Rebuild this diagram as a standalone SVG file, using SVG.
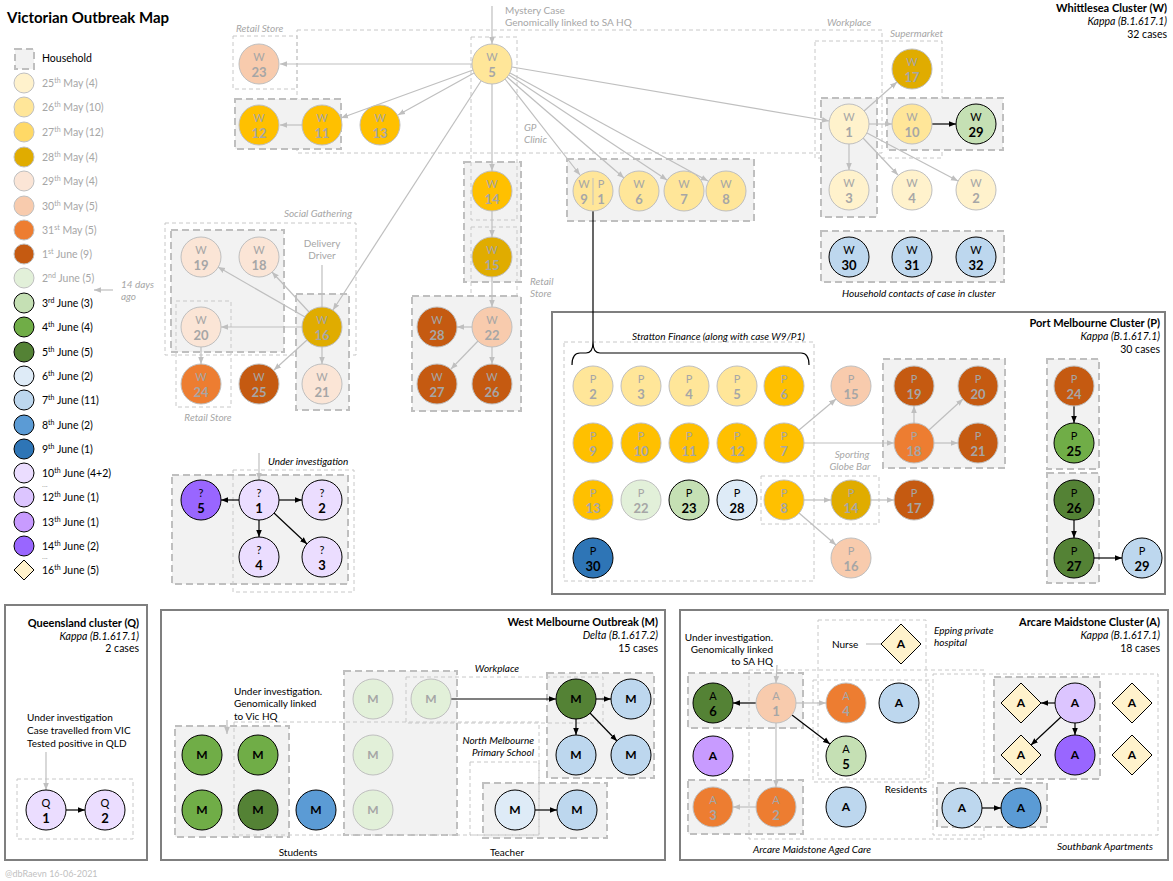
<svg xmlns="http://www.w3.org/2000/svg" width="1173" height="881" viewBox="0 0 1173 881">
<style>
text{font-family:Lato,"Liberation Sans",sans-serif}
.hh{fill:#F2F2F2;stroke:#BFBFBF;stroke-width:2;stroke-dasharray:7 4}
.tb{fill:none;stroke:#C8C8C8;stroke-width:1;stroke-dasharray:4 3}
.cl{fill:none;stroke:#7F7F7F;stroke-width:2}
.eg{stroke:#BFBFBF;stroke-width:1.2;fill:none;marker-end:url(#ag)}
.ek{stroke:#000;stroke-width:1.2;fill:none;marker-end:url(#ak)}
.ln{stroke:#BFBFBF;stroke-width:1.2;fill:none}
.ng{stroke:#BFBFBF;stroke-width:1}
.nk{stroke:#000;stroke-width:1}
.tg{fill:#A6A6A6}
.lt{font-size:11px;text-anchor:middle}
.nm{font-size:13px;font-weight:bold;text-anchor:middle}
.one{font-size:12px;font-weight:bold;text-anchor:middle}
.lab{font-size:10px;font-style:italic;fill:#A6A6A6}
.labk{font-size:10px;font-style:italic;fill:#000}
.txt{font-size:10px;fill:#000}
.gt{font-size:10px;fill:#A6A6A6}
.ttl{font-size:11px;font-weight:bold;text-anchor:end}
.sub{font-size:10.5px;font-style:italic;text-anchor:end}
.cnt{font-size:10.5px;text-anchor:end}
.lg{font-size:10.5px}
.sp{font-size:7px}
</style>
<defs>
<marker id="ag" viewBox="0 0 10 10" refX="10" refY="5" markerWidth="7" markerHeight="7" orient="auto" markerUnits="userSpaceOnUse"><path d="M0,1 L10,5 L0,9 z" fill="#BFBFBF"/></marker>
<marker id="ak" viewBox="0 0 10 10" refX="10" refY="5" markerWidth="7" markerHeight="7" orient="auto" markerUnits="userSpaceOnUse"><path d="M0,1 L10,5 L0,9 z" fill="#000"/></marker>
</defs>
<rect width="1173" height="881" fill="#fff"/>

<text x="7" y="23" font-size="15" font-weight="bold">Victorian Outbreak Map</text>

<g id="legend">
<rect x="15" y="49" width="19" height="20" class="hh"/>
<text x="42" y="62" class="lg">Household</text>
<circle cx="24" cy="83" r="10" fill="#FFF2CC" class="ng"/><text x="42" y="87" class="lg tg">25<tspan class="sp" dy="-4">th</tspan><tspan dy="4"> May (4)</tspan></text>
<circle cx="24" cy="107" r="10" fill="#FFE699" class="ng"/><text x="42" y="111" class="lg tg">26<tspan class="sp" dy="-4">th</tspan><tspan dy="4"> May (10)</tspan></text>
<circle cx="24" cy="132" r="10" fill="#FFD966" class="ng"/><text x="42" y="136" class="lg tg">27<tspan class="sp" dy="-4">th</tspan><tspan dy="4"> May (12)</tspan></text>
<circle cx="24" cy="157" r="10" fill="#E0AC00" class="ng"/><text x="42" y="161" class="lg tg">28<tspan class="sp" dy="-4">th</tspan><tspan dy="4"> May (4)</tspan></text>
<circle cx="24" cy="181" r="10" fill="#FBE5D6" class="ng"/><text x="42" y="185" class="lg tg">29<tspan class="sp" dy="-4">th</tspan><tspan dy="4"> May (4)</tspan></text>
<circle cx="24" cy="206" r="10" fill="#F8CBAD" class="ng"/><text x="42" y="210" class="lg tg">30<tspan class="sp" dy="-4">th</tspan><tspan dy="4"> May (5)</tspan></text>
<circle cx="24" cy="230" r="10" fill="#ED7D31" class="ng"/><text x="42" y="234" class="lg tg">31<tspan class="sp" dy="-4">st</tspan><tspan dy="4"> May (5)</tspan></text>
<circle cx="24" cy="254" r="10" fill="#C55A11" class="ng"/><text x="42" y="258" class="lg tg">1<tspan class="sp" dy="-4">st</tspan><tspan dy="4"> June (9)</tspan></text>
<circle cx="24" cy="278" r="10" fill="#E2F0D9" class="ng"/><text x="42" y="282" class="lg tg">2<tspan class="sp" dy="-4">nd</tspan><tspan dy="4"> June (5)</tspan></text>
<circle cx="24" cy="303" r="10" fill="#C5E0B4" class="nk"/><text x="42" y="307" class="lg">3<tspan class="sp" dy="-4">rd</tspan><tspan dy="4"> June (3)</tspan></text>
<circle cx="24" cy="327" r="10" fill="#70AD47" class="nk"/><text x="42" y="331" class="lg">4<tspan class="sp" dy="-4">th</tspan><tspan dy="4"> June (4)</tspan></text>
<circle cx="24" cy="352" r="10" fill="#548235" class="nk"/><text x="42" y="356" class="lg">5<tspan class="sp" dy="-4">th</tspan><tspan dy="4"> June (5)</tspan></text>
<circle cx="24" cy="376" r="10" fill="#DEEBF7" class="nk"/><text x="42" y="380" class="lg">6<tspan class="sp" dy="-4">th</tspan><tspan dy="4"> June (2)</tspan></text>
<circle cx="24" cy="400" r="10" fill="#BDD7EE" class="nk"/><text x="42" y="404" class="lg">7<tspan class="sp" dy="-4">th</tspan><tspan dy="4"> June (11)</tspan></text>
<circle cx="24" cy="425" r="10" fill="#5B9BD5" class="nk"/><text x="42" y="429" class="lg">8<tspan class="sp" dy="-4">th</tspan><tspan dy="4"> June (2)</tspan></text>
<circle cx="24" cy="449" r="10" fill="#2E75B6" class="nk"/><text x="42" y="453" class="lg">9<tspan class="sp" dy="-4">th</tspan><tspan dy="4"> June (1)</tspan></text>
<circle cx="24" cy="473" r="10" fill="#EBDDFF" class="nk"/><text x="42" y="477" class="lg">10<tspan class="sp" dy="-4">th</tspan><tspan dy="4"> June (4+2)</tspan></text>
<text x="42" y="487" font-size="8" fill="#A6A6A6">...</text>
<circle cx="24" cy="497" r="10" fill="#DCC5FF" class="nk"/><text x="42" y="501" class="lg">12<tspan class="sp" dy="-4">th</tspan><tspan dy="4"> June (1)</tspan></text>
<circle cx="24" cy="522" r="10" fill="#C89BFF" class="nk"/><text x="42" y="526" class="lg">13<tspan class="sp" dy="-4">th</tspan><tspan dy="4"> June (1)</tspan></text>
<circle cx="24" cy="546" r="10" fill="#9966FF" class="nk"/><text x="42" y="550" class="lg">14<tspan class="sp" dy="-4">th</tspan><tspan dy="4"> June (2)</tspan></text>
<text x="42" y="559" font-size="8" fill="#A6A6A6">...</text>
<polygon points="24,560 34,570 24,580 14,570" fill="#FFF2CC" class="nk"/><text x="42" y="574" class="lg">16<tspan class="sp" dy="-4">th</tspan><tspan dy="4"> June (5)</tspan></text>
<text x="121" y="288" class="lab">14 days</text>
<text x="121" y="300" class="lab">ago</text>
</g>

<g id="boxes">
<rect x="233" y="36" width="64" height="53" class="tb"/>
<rect x="297" y="30" width="585" height="123" class="tb"/>
<rect x="815" y="41" width="127" height="117" class="tb"/>
<rect x="235" y="99" width="106" height="50" class="hh"/>
<rect x="464" y="162" width="57" height="120" class="hh"/>
<rect x="471" y="37" width="46" height="183" class="tb"/>
<rect x="471" y="227" width="46" height="127" class="tb"/>
<rect x="567" y="159" width="187" height="62" class="hh"/>
<rect x="821" y="98" width="56" height="119" class="hh"/>
<rect x="887" y="98" width="116" height="52" class="hh"/>
<rect x="821" y="231" width="183" height="51" class="hh"/>
<rect x="165" y="223" width="191" height="132" class="tb"/>
<rect x="171" y="230" width="113" height="122" class="hh"/>
<rect x="296" y="294" width="53" height="116" class="hh"/>
<rect x="176" y="301" width="55" height="106" class="tb"/>
<rect x="412" y="296" width="109" height="115" class="hh"/>
<rect x="172" y="475" width="176" height="109" class="hh"/>
<rect x="233" y="470" width="121" height="122" class="tb"/>
<rect x="552" y="312" width="613" height="282" class="cl"/>
<rect x="564" y="342" width="250" height="239" class="tb"/>
<rect x="883" y="359" width="122" height="109" class="hh"/>
<rect x="1047" y="359" width="52" height="110" class="hh"/>
<rect x="1047" y="473" width="52" height="110" class="hh"/>
<rect x="761" y="476" width="118" height="48" class="tb"/>
<rect x="5" y="605" width="142" height="255" class="cl"/>
<rect x="17" y="779" width="116" height="60" class="tb"/>
<rect x="161" y="610" width="504" height="250" class="cl"/>
<rect x="344" y="671" width="113" height="164" class="hh"/>
<rect x="175" y="726" width="114" height="111" class="hh"/>
<rect x="483" y="783" width="124" height="55" class="hh"/>
<rect x="547" y="673" width="107" height="105" class="hh"/>
<rect x="406" y="677" width="197" height="46" class="tb"/>
<rect x="234" y="722" width="305" height="113" class="tb"/>
<rect x="470" y="762" width="69" height="73" class="tb"/>
<rect x="680" y="610" width="488" height="250" class="cl"/>
<rect x="688" y="673" width="115" height="55" class="hh"/>
<rect x="688" y="780" width="115" height="54" class="hh"/>
<rect x="749" y="670" width="235" height="169" class="tb"/>
<rect x="818" y="620" width="108" height="159" class="tb"/>
<rect x="813" y="680" width="116" height="102" class="tb"/>
<rect x="933" y="674" width="225" height="161" class="tb"/>
<rect x="994" y="677" width="106" height="102" class="hh"/>
<rect x="937" y="783" width="110" height="44" class="hh"/>
</g>

<g id="labels">
<text x="505" y="14" class="gt">Mystery Case</text>
<text x="505" y="26" class="gt">Genomically linked to SA HQ</text>
<text x="236" y="32" class="lab">Retail Store</text>
<text x="827" y="26" class="lab">Workplace</text>
<text x="890" y="37" class="lab">Supermarket</text>
<text x="524" y="131" class="lab">GP</text>
<text x="524" y="143" class="lab">Clinic</text>
<text x="352" y="217" class="lab" text-anchor="end">Social Gathering</text>
<text x="322" y="247" class="gt" text-anchor="middle">Delivery</text>
<text x="322" y="259" class="gt" text-anchor="middle">Driver</text>
<text x="208" y="421" class="lab" text-anchor="middle">Retail Store</text>
<text x="530" y="285" class="lab">Retail</text>
<text x="530" y="297" class="lab">Store</text>
<text x="842" y="297" class="labk">Household contacts of case in cluster</text>
<text x="1167" y="12" class="ttl">Whittlesea Cluster (W)</text>
<text x="1167" y="25" class="sub">Kappa (B.1.617.1)</text>
<text x="1167" y="38" class="cnt">32 cases</text>
<text x="268" y="465" class="labk">Under investigation</text>
<text x="632" y="340" class="labk">Stratton Finance (along with case W9/P1)</text>
<text x="852" y="458" class="lab" text-anchor="middle">Sporting</text>
<text x="850" y="470" class="lab" text-anchor="middle">Globe Bar</text>
<text x="1160" y="327" class="ttl">Port Melbourne Cluster (P)</text>
<text x="1160" y="340" class="sub">Kappa (B.1.617.1)</text>
<text x="1160" y="353" class="cnt">30 cases</text>
<text x="139" y="627" class="ttl">Queensland cluster (Q)</text>
<text x="139" y="640" class="sub">Kappa (B.1.617.1)</text>
<text x="139" y="652" class="cnt">2 cases</text>
<text x="27" y="721" class="txt">Under investigation</text>
<text x="27" y="734" class="txt">Case travelled from VIC</text>
<text x="27" y="747" class="txt">Tested positive in QLD</text>
<text x="5" y="877" font-size="9" fill="#BFBFBF">@dbRaevn 16-06-2021</text>
<text x="658" y="626" class="ttl">West Melbourne Outbreak (M)</text>
<text x="658" y="639" class="sub">Delta (B.1.617.2)</text>
<text x="658" y="652" class="cnt">15 cases</text>
<text x="497" y="672" class="labk" text-anchor="middle">Workplace</text>
<text x="234" y="695" class="txt">Under investigation.</text>
<text x="234" y="707" class="txt">Genomically linked</text>
<text x="234" y="720" class="txt">to Vic HQ</text>
<text x="534" y="744" class="labk" text-anchor="end">North Melbourne</text>
<text x="534" y="756" class="labk" text-anchor="end">Primary School</text>
<text x="298" y="856" class="txt" text-anchor="middle">Students</text>
<text x="507" y="856" class="txt" text-anchor="middle">Teacher</text>
<text x="1160" y="626" class="ttl">Arcare Maidstone Cluster (A)</text>
<text x="1160" y="639" class="sub">Kappa (B.1.617.1)</text>
<text x="1160" y="652" class="cnt">18 cases</text>
<text x="773" y="641" class="txt" text-anchor="end">Under investigation.</text>
<text x="773" y="653" class="txt" text-anchor="end">Genomically linked</text>
<text x="773" y="665" class="txt" text-anchor="end">to SA HQ</text>
<text x="832" y="648" class="txt">Nurse</text>
<text x="934" y="634" class="labk">Epping private</text>
<text x="934" y="646" class="labk">hospital</text>
<text x="906" y="793" class="txt" text-anchor="middle">Residents</text>
<text x="812" y="853" class="labk" text-anchor="middle">Arcare Maidstone Aged Care</text>
<text x="1105" y="850" class="labk" text-anchor="middle">Southbank Apartments</text>
</g>

<g id="connectors">
<line x1="113" y1="290" x2="94" y2="290" class="eg"/>
<line x1="492" y1="6" x2="492" y2="44" class="eg"/>
<line x1="472" y1="64" x2="280" y2="64" class="eg"/>
<line x1="473" y1="70" x2="341" y2="118" class="eg"/>
<line x1="474" y1="73" x2="398" y2="115" class="eg"/>
<line x1="302" y1="125" x2="280" y2="125" class="eg"/>
<line x1="481" y1="81" x2="333" y2="310" class="eg"/>
<line x1="492" y1="84" x2="492" y2="171" class="eg"/>
<line x1="505" y1="79" x2="580" y2="175" class="eg"/>
<line x1="507" y1="77" x2="624" y2="178" class="eg"/>
<line x1="509" y1="75" x2="667" y2="180" class="eg"/>
<line x1="510" y1="73" x2="708" y2="181" class="eg"/>
<line x1="512" y1="67" x2="829" y2="121" class="eg"/>
<line x1="864" y1="111" x2="897" y2="82" class="eg"/>
<line x1="869" y1="124" x2="892" y2="124" class="eg"/>
<line x1="932" y1="124" x2="956" y2="124" class="ek"/>
<line x1="849" y1="144" x2="849" y2="170" class="eg"/>
<line x1="863" y1="138" x2="898" y2="175" class="eg"/>
<line x1="867" y1="133" x2="958" y2="181" class="eg"/>
<line x1="492" y1="211" x2="492" y2="237" class="eg"/>
<line x1="492" y1="277" x2="492" y2="307" class="eg"/>
<line x1="472" y1="327" x2="457" y2="327" class="eg"/>
<line x1="478" y1="341" x2="451" y2="369" class="eg"/>
<line x1="492" y1="347" x2="492" y2="364" class="eg"/>
<line x1="322" y1="265" x2="322" y2="307" class="ln"/>
<line x1="305" y1="317" x2="218" y2="267" class="eg"/>
<line x1="309" y1="312" x2="272" y2="272" class="eg"/>
<line x1="302" y1="327" x2="221" y2="327" class="eg"/>
<line x1="307" y1="340" x2="274" y2="370" class="eg"/>
<line x1="322" y1="347" x2="322" y2="364" class="eg"/>
<line x1="201" y1="347" x2="201" y2="364" class="eg"/>
<line x1="259" y1="453" x2="259" y2="480" class="eg"/>
<line x1="239" y1="500" x2="221" y2="500" class="ek"/>
<line x1="279" y1="500" x2="302" y2="500" class="ek"/>
<line x1="259" y1="520" x2="259" y2="537" class="ek"/>
<line x1="274" y1="513" x2="307" y2="544" class="ek"/>
<line x1="593" y1="211" x2="593" y2="342" stroke="#000" stroke-width="1.2"/>
<path d="M572,365 Q572,353 580,353 L586,353 Q593,353 593,342 Q593,353 600,353 L801,353 Q809,353 809,365" fill="none" stroke="#000" stroke-width="1.2"/>
<line x1="799" y1="430" x2="836" y2="399" class="eg"/>
<line x1="804" y1="443" x2="894" y2="443" class="eg"/>
<line x1="914" y1="423" x2="914" y2="406" class="eg"/>
<line x1="929" y1="430" x2="963" y2="399" class="eg"/>
<line x1="934" y1="443" x2="958" y2="443" class="eg"/>
<line x1="804" y1="500" x2="831" y2="500" class="eg"/>
<line x1="871" y1="500" x2="894" y2="500" class="eg"/>
<line x1="799" y1="513" x2="836" y2="545" class="eg"/>
<line x1="1074" y1="406" x2="1074" y2="423" class="ek"/>
<line x1="1074" y1="520" x2="1074" y2="538" class="ek"/>
<line x1="1094" y1="558" x2="1122" y2="558" class="ek"/>
<line x1="46" y1="752" x2="46" y2="790" class="eg"/>
<line x1="66" y1="810" x2="85" y2="810" class="ek"/>
<line x1="227" y1="720" x2="227" y2="734" class="eg"/>
<line x1="451" y1="699" x2="556" y2="699" class="ek"/>
<line x1="596" y1="699" x2="611" y2="699" class="ek"/>
<line x1="576" y1="719" x2="576" y2="735" class="ek"/>
<line x1="590" y1="713" x2="617" y2="741" class="ek"/>
<line x1="535" y1="810" x2="557" y2="810" class="ek"/>
<line x1="777" y1="665" x2="776" y2="683" class="eg"/>
<line x1="756" y1="703" x2="733" y2="703" class="ek"/>
<line x1="796" y1="703" x2="826" y2="703" class="eg"/>
<line x1="792" y1="715" x2="830" y2="744" class="ek"/>
<line x1="776" y1="723" x2="776" y2="787" class="eg"/>
<line x1="756" y1="807" x2="733" y2="807" class="eg"/>
<line x1="866" y1="644" x2="881" y2="644" class="ln"/>
<line x1="1055" y1="703" x2="1041" y2="703" class="ek"/>
<line x1="1075" y1="723" x2="1075" y2="735" class="ek"/>
<line x1="1061" y1="717" x2="1031" y2="745" class="ek"/>
<line x1="982" y1="808" x2="1001" y2="808" class="ek"/>
</g>

<g id="w23"><circle cx="259" cy="64" r="20" fill="#F8CBAD" class="ng"/><text x="259" y="61" class="lt tg">W</text><text x="259" y="76.5" class="nm tg">23</text></g>
<g id="w5"><circle cx="492" cy="64" r="20" fill="#FFE699" class="ng"/><text x="492" y="61" class="lt tg">W</text><text x="492" y="76.5" class="nm tg">5</text></g>
<g id="w12"><circle cx="259" cy="125" r="20" fill="#FFC000" class="ng"/><text x="259" y="122" class="lt tg">W</text><text x="259" y="137.5" class="nm tg">12</text></g>
<g id="w11"><circle cx="322" cy="125" r="20" fill="#FFC000" class="ng"/><text x="322" y="122" class="lt tg">W</text><text x="322" y="137.5" class="nm tg">11</text></g>
<g id="w13"><circle cx="380" cy="125" r="20" fill="#FFC000" class="ng"/><text x="380" y="122" class="lt tg">W</text><text x="380" y="137.5" class="nm tg">13</text></g>
<g id="w14"><circle cx="492" cy="191" r="20" fill="#FFC000" class="ng"/><text x="492" y="188" class="lt tg">W</text><text x="492" y="203.5" class="nm tg">14</text></g>
<g id="w15"><circle cx="492" cy="257" r="20" fill="#E0AC00" class="ng"/><text x="492" y="254" class="lt tg">W</text><text x="492" y="269.5" class="nm tg">15</text></g>
<g id="w22"><circle cx="492" cy="327" r="20" fill="#F8CBAD" class="ng"/><text x="492" y="324" class="lt tg">W</text><text x="492" y="339.5" class="nm tg">22</text></g>
<g id="w28"><circle cx="437" cy="327" r="20" fill="#C55A11" class="ng"/><text x="437" y="324" class="lt tg">W</text><text x="437" y="339.5" class="nm tg">28</text></g>
<g id="w27"><circle cx="437" cy="384" r="20" fill="#C55A11" class="ng"/><text x="437" y="381" class="lt tg">W</text><text x="437" y="396.5" class="nm tg">27</text></g>
<g id="w26"><circle cx="492" cy="384" r="20" fill="#C55A11" class="ng"/><text x="492" y="381" class="lt tg">W</text><text x="492" y="396.5" class="nm tg">26</text></g>
<g id="w19"><circle cx="201" cy="257" r="20" fill="#FBE5D6" class="ng"/><text x="201" y="254" class="lt tg">W</text><text x="201" y="269.5" class="nm tg">19</text></g>
<g id="w18"><circle cx="259" cy="257" r="20" fill="#FBE5D6" class="ng"/><text x="259" y="254" class="lt tg">W</text><text x="259" y="269.5" class="nm tg">18</text></g>
<g id="w20"><circle cx="201" cy="327" r="20" fill="#FBE5D6" class="ng"/><text x="201" y="324" class="lt tg">W</text><text x="201" y="339.5" class="nm tg">20</text></g>
<g id="w16"><circle cx="322" cy="327" r="20" fill="#E0AC00" class="ng"/><text x="322" y="324" class="lt tg">W</text><text x="322" y="339.5" class="nm tg">16</text></g>
<g id="w24"><circle cx="201" cy="384" r="20" fill="#ED7D31" class="ng"/><text x="201" y="381" class="lt tg">W</text><text x="201" y="396.5" class="nm tg">24</text></g>
<g id="w25"><circle cx="259" cy="384" r="20" fill="#C55A11" class="ng"/><text x="259" y="381" class="lt tg">W</text><text x="259" y="396.5" class="nm tg">25</text></g>
<g id="w21"><circle cx="322" cy="384" r="20" fill="#FBE5D6" class="ng"/><text x="322" y="381" class="lt tg">W</text><text x="322" y="396.5" class="nm tg">21</text></g>
<g id="w9p1"><circle cx="593" cy="191" r="20" fill="#FFE699" class="ng"/><line x1="593" y1="178" x2="593" y2="205" stroke="#BFBFBF"/><text x="584" y="188" class="lt tg">W</text><text x="601" y="188" class="lt tg">P</text><text x="584" y="203.5" class="nm tg">9</text><text x="601" y="203.5" class="nm tg">1</text></g>
<g id="w6"><circle cx="639" cy="191" r="20" fill="#FFE699" class="ng"/><text x="639" y="188" class="lt tg">W</text><text x="639" y="203.5" class="nm tg">6</text></g>
<g id="w7"><circle cx="684" cy="191" r="20" fill="#FFE699" class="ng"/><text x="684" y="188" class="lt tg">W</text><text x="684" y="203.5" class="nm tg">7</text></g>
<g id="w8"><circle cx="726" cy="191" r="20" fill="#FFE699" class="ng"/><text x="726" y="188" class="lt tg">W</text><text x="726" y="203.5" class="nm tg">8</text></g>
<g id="w17"><circle cx="912" cy="69" r="20" fill="#E0AC00" class="ng"/><text x="912" y="66" class="lt tg">W</text><text x="912" y="81.5" class="nm tg">17</text></g>
<g id="w1"><circle cx="849" cy="124" r="20" fill="#FFF2CC" class="ng"/><text x="849" y="121" class="lt tg">W</text><text x="849" y="136.5" class="nm tg">1</text></g>
<g id="w10"><circle cx="912" cy="124" r="20" fill="#FFE699" class="ng"/><text x="912" y="121" class="lt tg">W</text><text x="912" y="136.5" class="nm tg">10</text></g>
<g id="w29"><circle cx="976" cy="124" r="20" fill="#C5E0B4" class="nk"/><text x="976" y="121" class="lt">W</text><text x="976" y="136.5" class="nm">29</text></g>
<g id="w3"><circle cx="849" cy="190" r="20" fill="#FFF2CC" class="ng"/><text x="849" y="187" class="lt tg">W</text><text x="849" y="202.5" class="nm tg">3</text></g>
<g id="w4"><circle cx="912" cy="190" r="20" fill="#FFF2CC" class="ng"/><text x="912" y="187" class="lt tg">W</text><text x="912" y="202.5" class="nm tg">4</text></g>
<g id="w2"><circle cx="976" cy="190" r="20" fill="#FFF2CC" class="ng"/><text x="976" y="187" class="lt tg">W</text><text x="976" y="202.5" class="nm tg">2</text></g>
<g id="w30"><circle cx="849" cy="257" r="20" fill="#BDD7EE" class="nk"/><text x="849" y="254" class="lt">W</text><text x="849" y="269.5" class="nm">30</text></g>
<g id="w31"><circle cx="912" cy="257" r="20" fill="#BDD7EE" class="nk"/><text x="912" y="254" class="lt">W</text><text x="912" y="269.5" class="nm">31</text></g>
<g id="w32"><circle cx="976" cy="257" r="20" fill="#BDD7EE" class="nk"/><text x="976" y="254" class="lt">W</text><text x="976" y="269.5" class="nm">32</text></g>

<g id="u5"><circle cx="201" cy="500" r="20" fill="#9966FF" class="nk"/><text x="201" y="497" class="lt">?</text><text x="201" y="512.5" class="nm">5</text></g>
<g id="u1"><circle cx="259" cy="500" r="20" fill="#EBDDFF" class="nk"/><text x="259" y="497" class="lt">?</text><text x="259" y="512.5" class="nm">1</text></g>
<g id="u2"><circle cx="322" cy="500" r="20" fill="#EBDDFF" class="nk"/><text x="322" y="497" class="lt">?</text><text x="322" y="512.5" class="nm">2</text></g>
<g id="u4"><circle cx="259" cy="557" r="20" fill="#EBDDFF" class="nk"/><text x="259" y="554" class="lt">?</text><text x="259" y="569.5" class="nm">4</text></g>
<g id="u3"><circle cx="322" cy="557" r="20" fill="#EBDDFF" class="nk"/><text x="322" y="554" class="lt">?</text><text x="322" y="569.5" class="nm">3</text></g>

<g id="p2"><circle cx="593" cy="386" r="20" fill="#FFE699" class="ng"/><text x="593" y="383" class="lt tg">P</text><text x="593" y="398.5" class="nm tg">2</text></g>
<g id="p3"><circle cx="641" cy="386" r="20" fill="#FFE699" class="ng"/><text x="641" y="383" class="lt tg">P</text><text x="641" y="398.5" class="nm tg">3</text></g>
<g id="p4"><circle cx="689" cy="386" r="20" fill="#FFE699" class="ng"/><text x="689" y="383" class="lt tg">P</text><text x="689" y="398.5" class="nm tg">4</text></g>
<g id="p5"><circle cx="737" cy="386" r="20" fill="#FFE699" class="ng"/><text x="737" y="383" class="lt tg">P</text><text x="737" y="398.5" class="nm tg">5</text></g>
<g id="p6"><circle cx="784" cy="386" r="20" fill="#FFC000" class="ng"/><text x="784" y="383" class="lt tg">P</text><text x="784" y="398.5" class="nm tg">6</text></g>
<g id="p9"><circle cx="593" cy="443" r="20" fill="#FFC000" class="ng"/><text x="593" y="440" class="lt tg">P</text><text x="593" y="455.5" class="nm tg">9</text></g>
<g id="p10"><circle cx="641" cy="443" r="20" fill="#FFC000" class="ng"/><text x="641" y="440" class="lt tg">P</text><text x="641" y="455.5" class="nm tg">10</text></g>
<g id="p11"><circle cx="689" cy="443" r="20" fill="#FFC000" class="ng"/><text x="689" y="440" class="lt tg">P</text><text x="689" y="455.5" class="nm tg">11</text></g>
<g id="p12"><circle cx="737" cy="443" r="20" fill="#FFC000" class="ng"/><text x="737" y="440" class="lt tg">P</text><text x="737" y="455.5" class="nm tg">12</text></g>
<g id="p7"><circle cx="784" cy="443" r="20" fill="#FFC000" class="ng"/><text x="784" y="440" class="lt tg">P</text><text x="784" y="455.5" class="nm tg">7</text></g>
<g id="p13"><circle cx="593" cy="500" r="20" fill="#FFC000" class="ng"/><text x="593" y="497" class="lt tg">P</text><text x="593" y="512.5" class="nm tg">13</text></g>
<g id="p22"><circle cx="641" cy="500" r="20" fill="#E2F0D9" class="ng"/><text x="641" y="497" class="lt tg">P</text><text x="641" y="512.5" class="nm tg">22</text></g>
<g id="p23"><circle cx="689" cy="500" r="20" fill="#C5E0B4" class="nk"/><text x="689" y="497" class="lt">P</text><text x="689" y="512.5" class="nm">23</text></g>
<g id="p28"><circle cx="737" cy="500" r="20" fill="#DEEBF7" class="nk"/><text x="737" y="497" class="lt">P</text><text x="737" y="512.5" class="nm">28</text></g>
<g id="p8"><circle cx="784" cy="500" r="20" fill="#FFC000" class="ng"/><text x="784" y="497" class="lt tg">P</text><text x="784" y="512.5" class="nm tg">8</text></g>
<g id="p30"><circle cx="593" cy="558" r="20" fill="#2E75B6" class="nk"/><text x="593" y="555" class="lt">P</text><text x="593" y="570.5" class="nm">30</text></g>
<g id="p15"><circle cx="851" cy="386" r="20" fill="#F8CBAD" class="ng"/><text x="851" y="383" class="lt tg">P</text><text x="851" y="398.5" class="nm tg">15</text></g>
<g id="p19"><circle cx="914" cy="386" r="20" fill="#C55A11" class="ng"/><text x="914" y="383" class="lt tg">P</text><text x="914" y="398.5" class="nm tg">19</text></g>
<g id="p20"><circle cx="978" cy="386" r="20" fill="#C55A11" class="ng"/><text x="978" y="383" class="lt tg">P</text><text x="978" y="398.5" class="nm tg">20</text></g>
<g id="p18"><circle cx="914" cy="443" r="20" fill="#ED7D31" class="ng"/><text x="914" y="440" class="lt tg">P</text><text x="914" y="455.5" class="nm tg">18</text></g>
<g id="p21"><circle cx="978" cy="443" r="20" fill="#C55A11" class="ng"/><text x="978" y="440" class="lt tg">P</text><text x="978" y="455.5" class="nm tg">21</text></g>
<g id="p14"><circle cx="851" cy="500" r="20" fill="#E0AC00" class="ng"/><text x="851" y="497" class="lt tg">P</text><text x="851" y="512.5" class="nm tg">14</text></g>
<g id="p17"><circle cx="914" cy="500" r="20" fill="#C55A11" class="ng"/><text x="914" y="497" class="lt tg">P</text><text x="914" y="512.5" class="nm tg">17</text></g>
<g id="p16"><circle cx="851" cy="558" r="20" fill="#F8CBAD" class="ng"/><text x="851" y="555" class="lt tg">P</text><text x="851" y="570.5" class="nm tg">16</text></g>
<g id="p24"><circle cx="1074" cy="386" r="20" fill="#C55A11" class="ng"/><text x="1074" y="383" class="lt tg">P</text><text x="1074" y="398.5" class="nm tg">24</text></g>
<g id="p25"><circle cx="1074" cy="443" r="20" fill="#70AD47" class="nk"/><text x="1074" y="440" class="lt">P</text><text x="1074" y="455.5" class="nm">25</text></g>
<g id="p26"><circle cx="1074" cy="500" r="20" fill="#548235" class="nk"/><text x="1074" y="497" class="lt">P</text><text x="1074" y="512.5" class="nm">26</text></g>
<g id="p27"><circle cx="1074" cy="558" r="20" fill="#548235" class="nk"/><text x="1074" y="555" class="lt">P</text><text x="1074" y="570.5" class="nm">27</text></g>
<g id="p29"><circle cx="1142" cy="558" r="20" fill="#BDD7EE" class="nk"/><text x="1142" y="555" class="lt">P</text><text x="1142" y="570.5" class="nm">29</text></g>

<g id="q1"><circle cx="46" cy="810" r="20" fill="#EBDDFF" class="nk"/><text x="46" y="807" class="lt">Q</text><text x="46" y="822.5" class="nm">1</text></g>
<g id="q2"><circle cx="105" cy="810" r="20" fill="#EBDDFF" class="nk"/><text x="105" y="807" class="lt">Q</text><text x="105" y="822.5" class="nm">2</text></g>

<g id="m1"><circle cx="202" cy="755" r="20" fill="#70AD47" class="nk"/><text x="202" y="759" class="one">M</text></g>
<g id="m2"><circle cx="258" cy="755" r="20" fill="#70AD47" class="nk"/><text x="258" y="759" class="one">M</text></g>
<g id="m3"><circle cx="202" cy="810" r="20" fill="#70AD47" class="nk"/><text x="202" y="814" class="one">M</text></g>
<g id="m4"><circle cx="258" cy="810" r="20" fill="#548235" class="nk"/><text x="258" y="814" class="one">M</text></g>
<g id="m5"><circle cx="316" cy="810" r="20" fill="#5B9BD5" class="nk"/><text x="316" y="814" class="one">M</text></g>
<g id="m6"><circle cx="373" cy="699" r="20" fill="#E2F0D9" class="ng"/><text x="373" y="703" class="one tg">M</text></g>
<g id="m7"><circle cx="431" cy="699" r="20" fill="#E2F0D9" class="ng"/><text x="431" y="703" class="one tg">M</text></g>
<g id="m8"><circle cx="373" cy="755" r="20" fill="#E2F0D9" class="ng"/><text x="373" y="759" class="one tg">M</text></g>
<g id="m9"><circle cx="373" cy="810" r="20" fill="#E2F0D9" class="ng"/><text x="373" y="814" class="one tg">M</text></g>
<g id="m10"><circle cx="576" cy="699" r="20" fill="#548235" class="nk"/><text x="576" y="703" class="one">M</text></g>
<g id="m11"><circle cx="631" cy="699" r="20" fill="#BDD7EE" class="nk"/><text x="631" y="703" class="one">M</text></g>
<g id="m12"><circle cx="576" cy="755" r="20" fill="#BDD7EE" class="nk"/><text x="576" y="759" class="one">M</text></g>
<g id="m13"><circle cx="631" cy="755" r="20" fill="#BDD7EE" class="nk"/><text x="631" y="759" class="one">M</text></g>
<g id="m14"><circle cx="515" cy="810" r="20" fill="#DEEBF7" class="nk"/><text x="515" y="814" class="one">M</text></g>
<g id="m15"><circle cx="577" cy="810" r="20" fill="#BDD7EE" class="nk"/><text x="577" y="814" class="one">M</text></g>

<g id="a6"><circle cx="713" cy="703" r="20" fill="#548235" class="nk"/><text x="713" y="700" class="lt">A</text><text x="713" y="715.5" class="nm">6</text></g>
<g id="a1"><circle cx="776" cy="703" r="20" fill="#F8CBAD" class="ng"/><text x="776" y="700" class="lt tg">A</text><text x="776" y="715.5" class="nm tg">1</text></g>
<g id="a4"><circle cx="846" cy="703" r="20" fill="#ED7D31" class="ng"/><text x="846" y="700" class="lt tg">A</text><text x="846" y="715.5" class="nm tg">4</text></g>
<g id="a7"><circle cx="899" cy="703" r="20" fill="#BDD7EE" class="nk"/><text x="899" y="707" class="one">A</text></g>
<g id="a8"><circle cx="713" cy="756" r="20" fill="#C89BFF" class="nk"/><text x="713" y="760" class="one">A</text></g>
<g id="a5"><circle cx="846" cy="756" r="20" fill="#C5E0B4" class="nk"/><text x="846" y="753" class="lt">A</text><text x="846" y="768.5" class="nm">5</text></g>
<g id="a3"><circle cx="713" cy="807" r="20" fill="#ED7D31" class="ng"/><text x="713" y="804" class="lt tg">A</text><text x="713" y="819.5" class="nm tg">3</text></g>
<g id="a2"><circle cx="776" cy="807" r="20" fill="#ED7D31" class="ng"/><text x="776" y="804" class="lt tg">A</text><text x="776" y="819.5" class="nm tg">2</text></g>
<g id="a9"><circle cx="846" cy="807" r="20" fill="#BDD7EE" class="nk"/><text x="846" y="811" class="one">A</text></g>
<g id="a10"><polygon points="901,624 921,644 901,664 881,644" fill="#FFF2CC" class="nk"/><text x="901" y="648" class="one">A</text></g>
<g id="a11"><polygon points="1021,683 1041,703 1021,723 1001,703" fill="#FFF2CC" class="nk"/><text x="1021" y="707" class="one">A</text></g>
<g id="a12"><circle cx="1075" cy="703" r="20" fill="#DCC5FF" class="nk"/><text x="1075" y="707" class="one">A</text></g>
<g id="a13"><polygon points="1132,683 1152,703 1132,723 1112,703" fill="#FFF2CC" class="nk"/><text x="1132" y="707" class="one">A</text></g>
<g id="a14"><polygon points="1021,735 1041,755 1021,775 1001,755" fill="#FFF2CC" class="nk"/><text x="1021" y="759" class="one">A</text></g>
<g id="a15"><circle cx="1075" cy="755" r="20" fill="#9966FF" class="nk"/><text x="1075" y="759" class="one">A</text></g>
<g id="a16"><polygon points="1132,735 1152,755 1132,775 1112,755" fill="#FFF2CC" class="nk"/><text x="1132" y="759" class="one">A</text></g>
<g id="a17"><circle cx="962" cy="808" r="20" fill="#BDD7EE" class="nk"/><text x="962" y="812" class="one">A</text></g>
<g id="a18"><circle cx="1021" cy="808" r="20" fill="#5B9BD5" class="nk"/><text x="1021" y="812" class="one">A</text></g>
</svg>
